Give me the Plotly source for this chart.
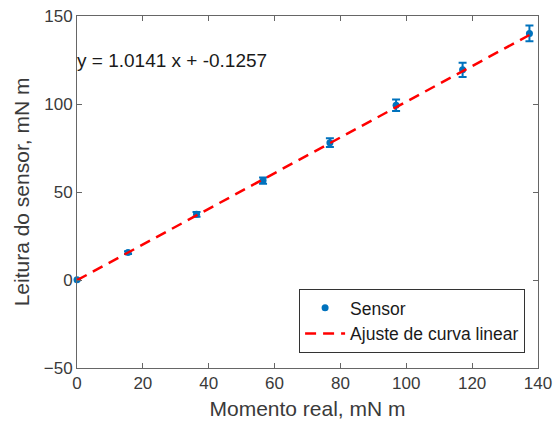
import plotly.graph_objects as go

# Measured torque vs sensor reading
momento_real = [0, 15.5, 36.3, 56.5, 76.8, 96.9, 117.1, 137.4]
leitura_sensor = [0.2, 15.6, 37.3, 56.5, 78.0, 99.3, 119.4, 140.1]
erro = [0.3, 0.8, 1.3, 1.8, 2.5, 3.3, 4.0, 4.5]

# Linear fit coefficients
inclinacao = 1.0141
intercepto = -0.1257
fit_x = [0, 137.4]
fit_y = [inclinacao * v + intercepto for v in fit_x]

cor_tick = "#3a3a3a"
fonte = "Liberation Sans, Arial, sans-serif"

fig = go.Figure()
fig.add_trace(go.Scatter(
    x=momento_real, y=leitura_sensor, mode="markers", name="Sensor",
    marker=dict(color="#0072BD", size=7, symbol="circle"),
    error_y=dict(type="data", array=erro, visible=True, color="#0072BD",
                 thickness=2, width=4),
    cliponaxis=False,
))
fig.add_trace(go.Scatter(
    x=fit_x, y=fit_y, mode="lines", name="Ajuste de curva linear",
    line=dict(color="#FF0000", width=2.5, dash="11px,7px"),
))

fig.add_annotation(
    x=0, y=125, xref="x", yref="y", xanchor="left", yanchor="middle",
    text="y = 1.0141 x + -0.1257", showarrow=False, xshift=-2,
    font=dict(size=19, color="#1a1a1a", family=fonte),
)

eixo = dict(
    showgrid=False, zeroline=False, showline=True, linecolor="#666666",
    linewidth=1, mirror="ticks", ticks="inside", ticklen=5,
    tickcolor="#666666", tickfont=dict(size=17, color=cor_tick, family=fonte),
    automargin=False,
)

fig.update_layout(
    width=555, height=432,
    margin=dict(l=77, r=17, t=16, b=64),
    paper_bgcolor="white", plot_bgcolor="white",
    showlegend=True,
    legend=dict(
        x=0.972, y=0.043, xanchor="right", yanchor="bottom",
        bgcolor="white", bordercolor="#333333", borderwidth=1,
        font=dict(size=17.5, color="#1a1a1a", family=fonte),
        tracegroupgap=0, itemwidth=40,
    ),
    xaxis=dict(eixo, range=[0, 140], tickvals=[0, 20, 40, 60, 80, 100, 120, 140],
               title=dict(text="Momento real, mN m", standoff=8,
                          font=dict(size=21, color=cor_tick, family=fonte))),
    yaxis=dict(eixo, range=[-50, 150], tickvals=[-50, 0, 50, 100, 150],
               title=dict(text="Leitura do sensor, mN m", standoff=8,
                          font=dict(size=21, color=cor_tick, family=fonte))),
)

fig.write_html("out.html")
